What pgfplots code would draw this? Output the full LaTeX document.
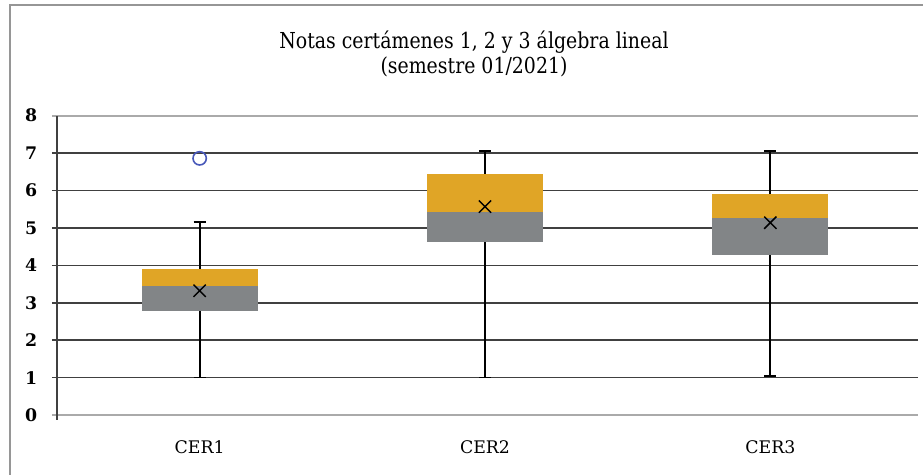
\documentclass[border=0pt]{standalone}
\usepackage{fontspec}
\setmainfont{DejaVu Serif}
\newfontfamily\titlefont{DejaVu Serif}[FakeStretch=0.86]
\usepackage{pgfplots}
\pgfplotsset{compat=1.18}
\usepgfplotslibrary{statistics}

\definecolor{boxgold}{RGB}{224,165,38}
\definecolor{boxgray}{RGB}{130,133,135}
\definecolor{griddark}{RGB}{64,64,64}
\definecolor{gridlight}{RGB}{170,170,170}
\definecolor{outblue}{RGB}{72,88,185}
\definecolor{framegray}{RGB}{150,150,150}

\begin{document}
\begin{tikzpicture}
\begin{axis}[
  at={(0,0)}, anchor=south west,
  scale only axis, width=642pt, height=224.5pt,
  xmin=0.5, xmax=3.5, ymin=0, ymax=8,
  clip=false,
  axis line style={draw=none},
  xtick={1,2,3}, xticklabels={CER1,CER2,CER3},
  xtick style={draw=none},
  xticklabel style={font=\fontsize{13}{15}\selectfont, yshift=-12pt},
  ytick={1,...,7},
  extra y ticks={0,8},
  extra y tick style={ymajorgrids=true,
    major grid style={draw=gridlight, line width=1.5pt},
    ytick style={draw=gridlight, line width=1.5pt}},
  ymajorgrids,
  major grid style={draw=griddark, line width=1.2pt},
  ytick style={draw=griddark, line width=1.2pt},
  tick align=outside, major tick length=3.75pt,
  yticklabel style={font=\bfseries\fontsize{13}{15}\selectfont, xshift=-7.5pt},
  /pgf/number format/assume math mode=true,
  boxplot/draw direction=y,
  boxplot/box extend=0.4,
  boxplot/whisker extend=0.042,
  boxplot/draw/median/.code={},
  boxplot/draw/box/.code={%
    \fill[boxgray] (boxplot box cs:\pgfplotsboxplotvalue{lower quartile},0)
      rectangle (boxplot box cs:\pgfplotsboxplotvalue{median},1);
    \fill[boxgold] (boxplot box cs:\pgfplotsboxplotvalue{median},0)
      rectangle (boxplot box cs:\pgfplotsboxplotvalue{upper quartile},1);
  },
]
% CER1
\addplot[draw=black, line width=1.35pt, boxplot prepared={draw position=1,
  lower whisker=1.0, lower quartile=2.81, median=3.46,
  upper quartile=3.88, upper whisker=5.15}] coordinates {};
% CER2
\addplot[draw=black, line width=1.35pt, boxplot prepared={draw position=2,
  lower whisker=1.0, lower quartile=4.65, median=5.45,
  upper quartile=6.42, upper whisker=7.05}] coordinates {};
% CER3
\addplot[draw=black, line width=1.35pt, boxplot prepared={draw position=3,
  lower whisker=1.05, lower quartile=4.30, median=5.28,
  upper quartile=5.88, upper whisker=7.05}] coordinates {};
% medias
\addplot[only marks, mark=x, mark size=6.5pt,
  mark options={draw=black, line width=1.1pt}]
  coordinates {(1,3.32) (2,5.57) (3,5.14)};
% atipico
\addplot[only marks, mark=o, mark size=5pt,
  mark options={draw=outblue, line width=1.2pt}]
  coordinates {(1,6.86)};
\end{axis}
\draw[griddark, line width=1.2pt] (0,-3.75pt) -- (0,224.5pt);
\node[anchor=base, font=\titlefont\fontsize{16.5}{19}\selectfont]
  at (312.75pt,274.9pt) {Notas certámenes 1, 2 y 3 álgebra lineal};
\node[anchor=base, font=\titlefont\fontsize{16.5}{19}\selectfont]
  at (312.75pt,255.75pt) {(semestre 01/2021)};
\draw[framegray, line width=1.5pt] (-35.25pt,-60pt) rectangle (670pt,307.5pt);
\pgfresetboundingbox
\useasboundingbox (-42.75pt,-44.25pt) rectangle (649.5pt,311.25pt);
\end{tikzpicture}
\end{document}
